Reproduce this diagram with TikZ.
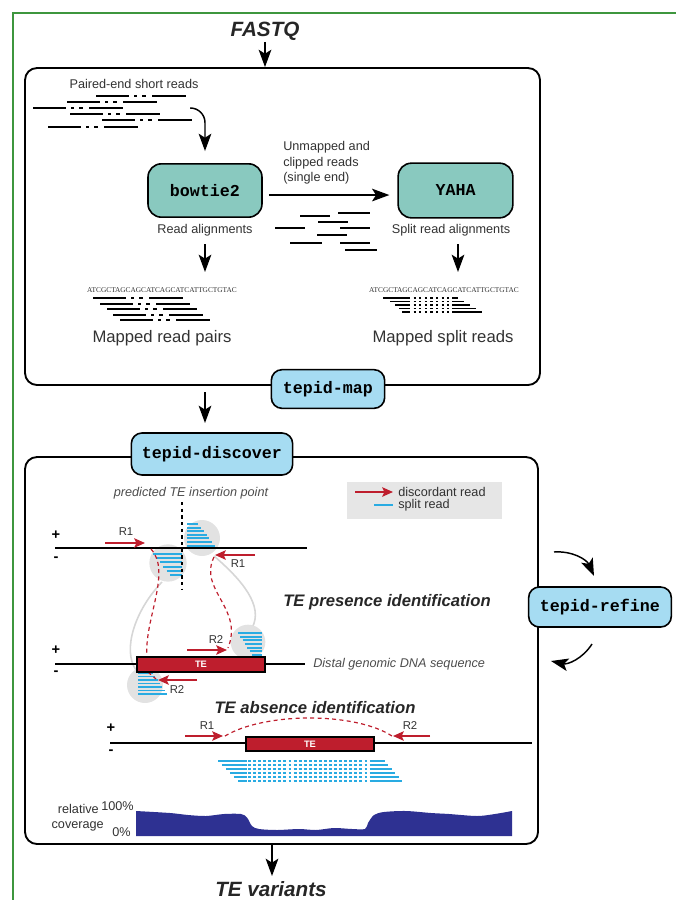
\documentclass[tikz,border=0pt]{standalone}
\usepackage{fontspec}
\setmainfont{Liberation Sans}
\newfontfamily\codefont{Liberation Mono}
\newfontfamily\seqfont{Liberation Serif}
\usetikzlibrary{arrows.meta,calc}
\definecolor{tealfill}{RGB}{137,201,191}
\definecolor{lbluefill}{RGB}{166,220,242}
\definecolor{ered}{RGB}{190,30,45}
\definecolor{sblue}{RGB}{41,171,226}
\definecolor{navy}{RGB}{46,49,146}
\definecolor{cgray}{RGB}{226,226,226}
\definecolor{lgray}{RGB}{214,214,214}
\definecolor{leggray}{RGB}{230,230,230}
\definecolor{fgreen}{RGB}{62,150,62}
\definecolor{txt}{RGB}{50,50,50}
\tikzset{
  container/.style={draw, line width=1.4pt, rounded corners=9pt, inner sep=0pt},
  tool/.style={draw, line width=1.2pt, rounded corners=10pt, fill=tealfill, inner sep=0pt,
    font=\codefont\bfseries\fontsize{12.5}{14}\selectfont},
  cmd/.style={draw, line width=1.2pt, rounded corners=8pt, fill=lbluefill, inner sep=0pt,
    font=\codefont\bfseries\fontsize{12.5}{14}\selectfont},
  title/.style={font=\bfseries\itshape\fontsize{15.5}{18}\selectfont, inner sep=1pt, text=black!85},
  subtitle/.style={font=\bfseries\itshape\fontsize{12.5}{15}\selectfont, inner sep=0pt, text=black!85},
  flow/.style={line width=1.1pt, -{Stealth[length=13pt,width=9.5pt,inset=3pt]}},
  readln/.style={line width=1.4pt},
  splitln/.style={line width=1.4pt, sblue},
  disc/.style={line width=1.6pt, ered, -{Stealth[length=8pt,width=7pt,inset=1.5pt]}},
  reddash/.style={line width=0.9pt, ered, dash pattern=on 3pt off 2.5pt},
  graycurve/.style={line width=1.2pt, lgray},
  lbl/.style={font=\fontsize{9.5}{11.5}\selectfont, inner sep=0pt, text=txt},
  ilbl/.style={font=\itshape\fontsize{9.5}{11.5}\selectfont, inner sep=0pt, text=black!70},
  rlbl/.style={font=\fontsize{8.5}{10}\selectfont, inner sep=0pt, text=txt},
  big/.style={font=\fontsize{12.5}{14}\selectfont, inner sep=0pt, text=txt},
  seq/.style={font=\seqfont\fontsize{5.5}{6}\selectfont, inner sep=0pt, text=txt},
  pm/.style={font=\bfseries\fontsize{11}{12}\selectfont, inner sep=0pt},
  tebox/.style={draw=black, line width=1pt, fill=ered, text=white, inner sep=0pt,
    font=\bfseries\fontsize{7}{8}\selectfont},
}
\newcommand\pairread[2]{\draw[readln] (#1,#2) -- ++(33,0) ++(5,0) -- ++(3,0) ++(5,0) -- ++(4,0) ++(6,0) -- ++(34,0);}
\begin{document}
\begin{tikzpicture}[x=0.75pt,y=-0.75pt]
\useasboundingbox (0,0) rectangle (676,900);
\draw[fgreen, line width=1.6pt] (13,900) -- (13,13) -- (676,13);

% containers
\node[container, minimum width=386.25pt, minimum height=237.75pt] (topbox) at (282.5,226.5) {};
\node[container, minimum width=384.75pt, minimum height=290.25pt] (botbox) at (281.5,650.5) {};

% FASTQ input
\node[title] (fastq) at (265,31) {FASTQ};
\draw[flow] (fastq.south) -- (fastq.south |- topbox.north);

% ---------- top box ----------
\node[lbl] (pelabel) at (134,84) {Paired-end short reads};
\pairread{96}{96}
\pairread{67}{102}
\pairread{33}{108}
\pairread{70}{114}
\pairread{102}{120}
\pairread{48}{127}

\node[tool, minimum width=85.5pt, minimum height=40pt] (bowtie) at (205,190.5) {bowtie2};
\node[tool, minimum width=86pt, minimum height=41pt] (yaha) at (455.5,190.5) {YAHA};

\coordinate (pe) at (190,108);
\draw[flow, rounded corners=11pt] (pe) -| ([yshift=9pt]bowtie.north);

\draw[flow] ([xshift=4.5pt,yshift=-3.4pt]bowtie.east) -- ([xshift=-6pt,yshift=-3.4pt]yaha.west);
\node[lbl, align=left, anchor=north west, font=\fontsize{9.5}{11.8}\selectfont] (unm) at (283,141) {Unmapped and\\clipped reads\\(single end)};

% single end reads
\draw[readln] (300,216) -- (330,216);
\draw[readln] (338,213) -- (370,213);
\draw[readln] (318,222) -- (348,222);
\draw[readln] (275,228) -- (305,228);
\draw[readln] (340,228) -- (370,228);
\draw[readln] (317,235) -- (347,235);
\draw[readln] (290,243) -- (322,243);
\draw[readln] (340,243) -- (370,243);
\draw[readln] (345,250) -- (377,250);

\node[lbl] (ra) at (205,230) {Read alignments};
\node[lbl] (sra) at (451,230) {Split read alignments};
\coordinate (raend) at (205,272);
\coordinate (sraend) at (458,272);
\draw[flow] (205,244) -- (raend);
\draw[flow] (458,244) -- (sraend);

% mapped read pairs
\node[seq] (seq1) at (162,290) {ATCGCTAGCAGCATCAGCATCATTGCTGTAC};
\pairread{93}{298}
\pairread{100}{304}
\pairread{107}{309}
\pairread{113}{315}
\pairread{120}{320}
\node[big] (mrp) at (162,338) {Mapped read pairs};

% mapped split reads
\node[seq] (seq2) at (444,290) {ATCGCTAGCAGCATCAGCATCATTGCTGTAC};
\foreach \i/\l/\r in {0/383/458, 1/390/464, 2/395/470, 3/399/476, 4/402/482} {
  \pgfmathsetmacro\yy{298+3.5*\i}
  \draw[line width=1.2pt] (\l,\yy) -- (408,\yy);
  \draw[line width=1.2pt, dash pattern=on 1.6pt off 2.6pt] (408,\yy) -- (452,\yy);
  \draw[line width=1.2pt] (452,\yy) -- (\r,\yy);
}
\node[big] (msr) at (443,338) {Mapped split reads};

% ---------- commands ----------
\node[cmd, minimum width=85pt, minimum height=29pt] (map) at (328,389) {tepid-map};
\node[cmd, minimum width=121pt, minimum height=31.5pt] (discover) at (212,454) {tepid-discover};
\node[cmd, minimum width=107pt, minimum height=30pt] (refine) at (600,607) {tepid-refine};

\coordinate (d1) at (205,392);
\coordinate (d2) at (205,423);
\draw[flow] (d1) -- (d2);

\coordinate (r1a) at (554,552);
\coordinate (r1b) at (594,576);
\draw[flow] (r1a) to[bend left=35] (r1b);
\coordinate (r2a) at (592,644);
\coordinate (r2b) at (551,661);
\draw[flow] (r2a) to[bend left=35] (r2b);

% ---------- legend ----------
\node[fill=leggray, minimum width=116.25pt, minimum height=27.75pt, inner sep=0pt] (legend) at (424.5,500.5) {};
\draw[disc] (355,492) -- (393,492);
\node[lbl, anchor=west] (lg1) at (398,492) {discordant read};
\draw[sblue, line width=1.6pt] (374,505) -- (393,505);
\node[lbl, anchor=west] (lg2) at (398,505) {split read};

% ---------- TE presence ----------
\node[ilbl] (pred) at (191,493) {predicted TE insertion point};

% gray connecting curves
\draw[graycurve] (162,582) .. controls (135,610) and (122,650) .. (136,670);
\draw[graycurve] (214,556) .. controls (242,580) and (264,606) .. (252,628);

% circles
\fill[cgray] (202,538) circle[radius=13.5pt];
\fill[cgray] (168,563) circle[radius=14pt];
\fill[cgray] (248,642) circle[radius=13pt];
\fill[cgray] (145,685) circle[radius=13.5pt];

% split reads in circles
\foreach \i in {0,...,6} {\draw[splitln] (187,{524+3.6*\i}) -- ({198+2.85*\i},{524+3.6*\i});}
\foreach \i in {0,...,5} {\draw[splitln] ({153+3.4*\i},{554+4.2*\i}) -- (182,{554+4.2*\i});}
\foreach \i in {0,...,6} {\draw[splitln] ({238+2.33*\i},{633+3.67*\i}) -- (262,{633+3.67*\i});}
\foreach \i in {0,...,6} {\draw[splitln] (138,{673+3.5*\i}) -- ({153+2.33*\i},{673+3.5*\i});}

% insertion point line
\draw[line width=1.5pt, dash pattern=on 2.5pt off 2.5pt] (182,502) -- (182,590);

% genome line 1
\draw[line width=1.4pt] (55,548) -- (307,548);
\node[pm] (p1) at (56,535) {+};
\node[pm] (m1) at (56,559) {-};
\draw[disc] (105,543) -- (145,543);
\node[rlbl] (r1l) at (126,532) {R1};
\draw[disc] (255,555) -- (215,555);
\node[rlbl] (r1r) at (238,564) {R1};

% red dashed links
\draw[reddash] (151,549) .. controls (172,572) and (144,620) .. (147,656);
\draw[reddash] (214,557) .. controls (198,590) and (244,608) .. (228,648);
\draw[reddash] (148,672) -- (156,679);

\node[subtitle] (pres) at (387,602) {TE presence identification};

% genome line 2
\draw[line width=1.4pt] (55,664) -- (305,664);
\node[pm] (p2) at (56,650) {+};
\node[pm] (m2) at (56,673) {-};
\node[tebox, minimum width=96pt, minimum height=11.25pt] (te1) at (201,664.5) {TE};
\node[ilbl, anchor=west] (distal) at (313,664) {Distal genomic DNA sequence};
\draw[disc] (187,650) -- (227,650);
\node[rlbl] (r2u) at (216,640) {R2};
\draw[disc] (197,680) -- (158,680);
\node[rlbl] (r2d) at (177,690) {R2};

% ---------- TE absence ----------
\node[subtitle] (abs) at (315,708) {TE absence identification};
\draw[line width=1.4pt] (110,743) -- (532,743);
\node[pm] (p3) at (111,728) {+};
\node[pm] (m3) at (111,752) {-};
\node[tebox, minimum width=96pt, minimum height=10.5pt] (te2) at (310,744) {TE};
\draw[disc] (185,736) -- (223,736);
\node[rlbl] (r1a3) at (207,726) {R1};
\draw[disc] (430,736) -- (393,736);
\node[rlbl] (r2a3) at (410,726) {R2};
\draw[reddash] (225,736) .. controls (265,712) and (355,712) .. (392,736);

\foreach \i in {0,...,5} {
  \pgfmathsetmacro\yy{761+4*\i}
  \draw[splitln] ({218+4*\i},\yy) -- (247,\yy);
  \draw[splitln, line width=1.1pt, dash pattern=on 2.2pt off 1.6pt] (248,\yy) -- (372,\yy);
  \draw[splitln] (372,\yy) -- ({385+3.4*\i},\yy);
}

% coverage
\fill[navy] (136,836) -- (136,811) -- plot[smooth] coordinates {(136,811) (170,813) (188,815) (206,816) (224,814) (241,814) (247,817.5) (252,826) (259,829) (277,830) (299,829) (316,830) (334,828) (352,829) (365,829) (368,823) (374,815) (384,812) (406,811) (431,813) (449,814) (477,816) (495,814) (512,811)} -- (512,836) -- cycle;
\node[lbl, anchor=east] (rel) at (99,809) {relative};
\node[lbl, anchor=east] (cov) at (104,826) {coverage};
\node[lbl, anchor=east] (h100) at (134,806) {100\%};
\node[lbl, anchor=east] (h0) at (131,832) {0\%};

% output
\coordinate (v1) at (272,876);
\draw[flow] (botbox.south -| v1) -- (v1);
\node[title] (tev) at (271,889) {TE variants};
\end{tikzpicture}
\end{document}
